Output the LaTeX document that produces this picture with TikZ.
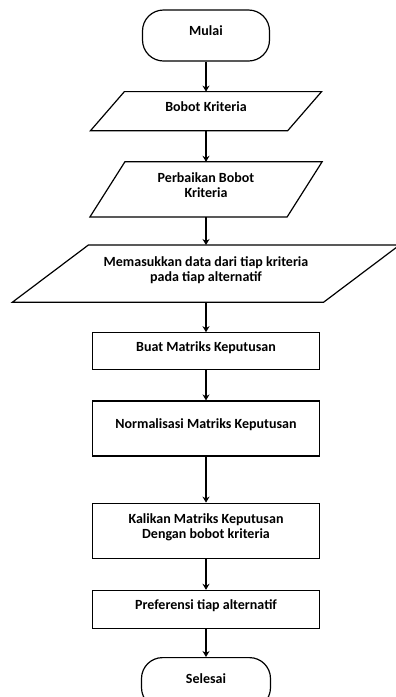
\documentclass[tikz,border=0pt]{standalone}
\usepackage{fontspec}
\setmainfont{Carlito}
\usetikzlibrary{positioning}
\usetikzlibrary{arrows.meta}

% slanted border round an input node: #1 node name, #2 slant
\newcommand{\ioborder}[2]{%
  \draw[-] ([xshift=#2/2]#1.north west) -- ([xshift=#2/2]#1.north east)
    -- ([xshift=-#2/2]#1.south east) -- ([xshift=-#2/2]#1.south west) -- cycle;}

\begin{document}
\begin{tikzpicture}[
  ->,>={Stealth[length=6pt,width=7pt]}, % arrow tips of the flow
  line width=1.2pt,
  node distance=30pt, % space between the steps
  every node/.style={font=\fontsize{14}{14.5}\selectfont\bfseries, text depth=9pt, align=center},
  terminal/.style={rectangle, rounded corners=21pt, draw, minimum width=127pt, minimum height=51pt}, % start and end
  io/.style={rectangle, minimum width=196pt, minimum height=38pt}, % input steps, border drawn with \ioborder
  process/.style={rectangle, draw, minimum width=227pt, minimum height=37pt} % process steps
  ]
  \useasboundingbox (0,0) rectangle (396pt,-697pt);

  \node[terminal] (start) at (206pt,-35.5pt) {Mulai};
  \node[io] (bobot) [below=of start] {Bobot Kriteria};
  \node[io, minimum height=54pt] (perbaikan) [below=31pt of bobot] {Perbaikan Bobot\\Kriteria};
  \node[io, minimum width=310pt, minimum height=56pt] (input) [below=28pt of perbaikan] {Memasukkan data dari tiap kriteria\\pada tiap alternatif};
  \node[process] (matriks) [below=of input] {Buat Matriks Keputusan};
  \node[process, minimum height=55pt] (normal) [below=of matriks] {Normalisasi Matriks Keputusan};
  \node[process, minimum height=55pt] (kali) [below=46pt of normal] {Kalikan Matriks Keputusan\\Dengan bobot kriteria};
  \node[process, minimum height=38pt] (pref) [below=31pt of kali] {Preferensi tiap alternatif};
  \node[terminal, minimum width=129pt] (stop) [below=28pt of pref] {Selesai};

  \ioborder{bobot}{34pt}
  \ioborder{perbaikan}{35pt}
  \ioborder{input}{76pt}

  \path
    (start) edge (bobot)
    (bobot) edge (perbaikan)
    (perbaikan) edge (input)
    (input) edge (matriks)
    (matriks) edge (normal)
    (normal) edge (kali)
    (kali) edge (pref)
    (pref) edge (stop);
\end{tikzpicture}
\end{document}
